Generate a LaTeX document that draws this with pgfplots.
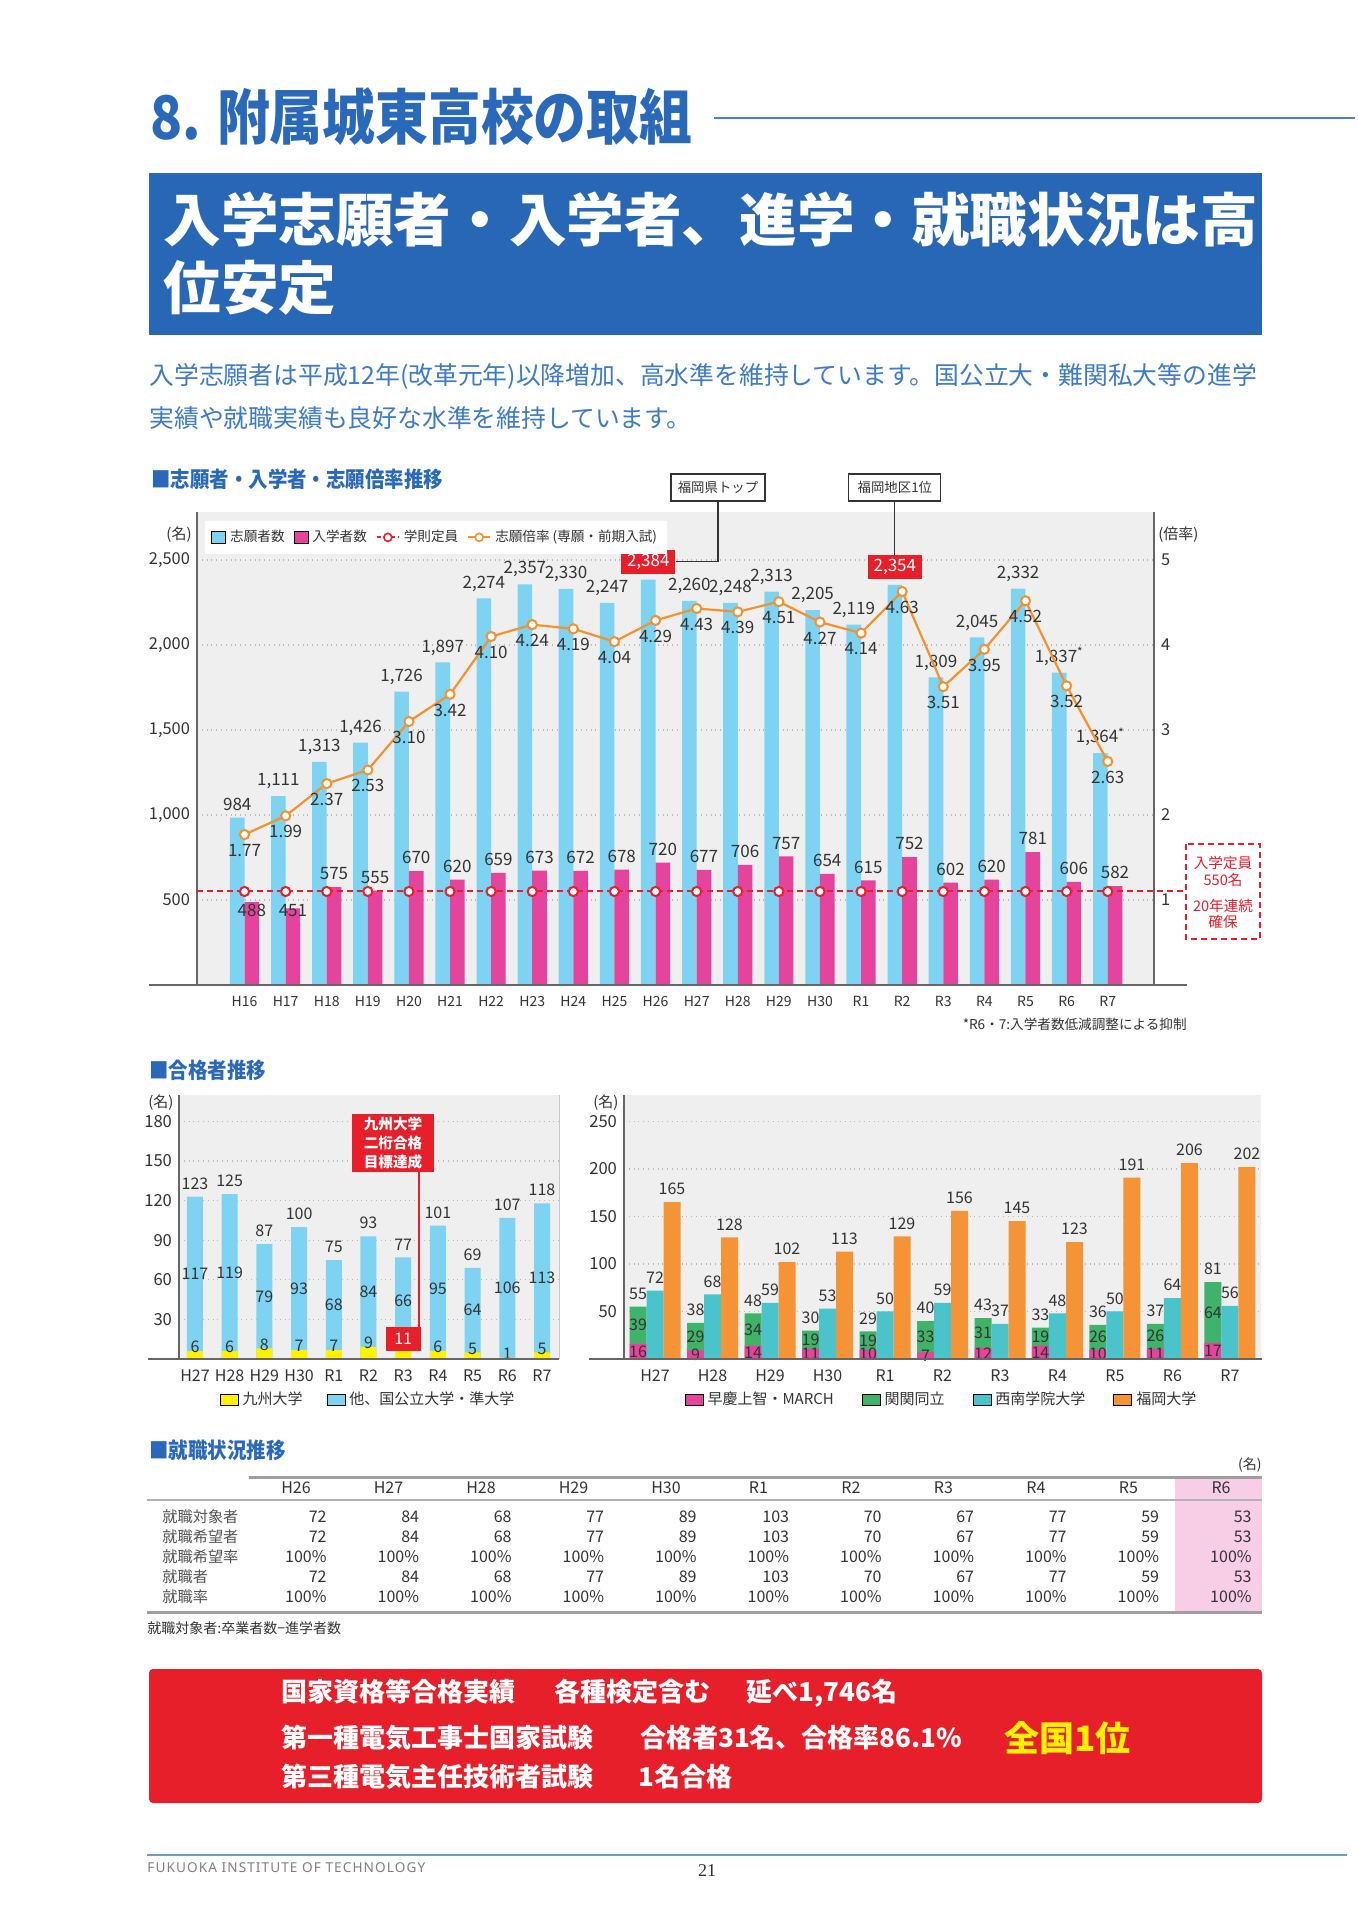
\documentclass[border=0pt]{standalone}
\usepackage{fontspec}
\usepackage{pgfplots}
\usepackage{pgfplotstable}
\pgfplotsset{compat=1.18}
\setmainfont{Noto Sans CJK JP}
\newfontfamily\titlefont[FakeStretch=0.88]{Noto Sans CJK JP}
\newfontfamily\headfont[FakeStretch=0.9]{Noto Sans CJK JP}
\newfontfamily\latinsans[LetterSpace=8]{Noto Sans}
\newfontfamily\serif{Liberation Serif}
\newcommand{\fs}[1]{\fontsize{#1}{#1}\selectfont}

\definecolor{txt}{HTML}{333333}
\definecolor{txtlight}{HTML}{555555}
\definecolor{axisgray}{HTML}{666666}
\definecolor{gridgray}{HTML}{BBBBBB}
\definecolor{bg}{HTML}{EFEFEF}
\definecolor{bluebar}{HTML}{7FD3F2}
\definecolor{magbar}{HTML}{E5449D}
\definecolor{orangeline}{HTML}{F39231}
\definecolor{redc}{HTML}{E71F2A}
\definecolor{yellowbar}{HTML}{FFF100}
\definecolor{greenbar}{HTML}{40B36B}
\definecolor{cyanbar}{HTML}{4BC3CB}
\definecolor{orangebar}{HTML}{F59437}
\definecolor{titleblue}{HTML}{2A69BA}
\definecolor{bannerblue}{HTML}{2767B6}
\definecolor{parablue}{HTML}{3D7BC9}
\definecolor{pinkcell}{HTML}{F8CDE6}
\definecolor{footblue}{HTML}{6E9AD4}

\pgfplotsset{
  sqA/.style={legend image code/.code={\fill[##1] (0pt,-3.2pt) rectangle (7pt,3.2pt);}},
  rectB/.style={legend image code/.code={\fill[##1] (0pt,-2.8pt) rectangle (9pt,2.8pt);}},
  lineleg/.style={legend image code/.code={\draw[mark repeat=2,mark phase=2,##1] plot coordinates {(0pt,0pt) (5.5pt,0pt) (11pt,0pt)};}},
}

% applicants, entrants, ratio and the fixed capacity, fiscal years H16 .. R7
\pgfplotstableread{
x app ent rat cap applab entlab
0 984 488 1.77 550 984 {}
1 1111 451 1.99 550 1,111 {}
2 1313 575 2.37 550 1,313 575
3 1426 555 2.53 550 1,426 555
4 1726 670 3.10 550 1,726 670
5 1897 620 3.42 550 1,897 620
6 2274 659 4.10 550 2,274 659
7 2357 673 4.24 550 2,357 673
8 2330 672 4.19 550 2,330 672
9 2247 678 4.04 550 2,247 678
10 2384 720 4.29 550 {} 720
11 2260 677 4.43 550 2,260 677
12 2248 706 4.39 550 2,248 706
13 2313 757 4.51 550 2,313 757
14 2205 654 4.27 550 2,205 654
15 2119 615 4.14 550 2,119 615
16 2354 752 4.63 550 {} 752
17 1809 602 3.51 550 1,809 602
18 2045 620 3.95 550 2,045 620
19 2332 781 4.52 550 2,332 781
20 1837 606 3.52 550 1,837\textsuperscript{*} 606
21 1364 582 2.63 550 1,364\textsuperscript{*} 582
}\tblA

% national / public universities, H27 .. R7
\pgfplotstableread{
x kyu oth kyulab
0 6 117 6
1 6 119 6
2 8 79 8
3 7 93 7
4 7 68 7
5 9 84 9
6 11 66 {}
7 6 95 6
8 5 64 5
9 1 106 1
10 5 113 5
}\tblB

% private universities, H27 .. R7
\pgfplotstableread{
x mar kan sei fuk
0 16 39 72 165
1 9 29 68 128
2 14 34 59 102
3 11 19 53 113
4 10 19 50 129
5 7 33 59 156
6 12 31 37 145
7 14 19 48 123
8 10 26 50 191
9 11 26 64 206
10 17 64 56 202
}\tblC

\begin{document}
\begin{tikzpicture}
\begin{scope}[x=0.5pt,y=-0.5pt]
\path[use as bounding box] (0,0) rectangle (1358,1920);
\fill[white] (0,0) rectangle (1358,1920);
% page header
\node[anchor=west, inner sep=0, text=titleblue, font=\titlefont\bfseries\fs{30}] at (150,117) {8. 附属城東高校の取組};
\draw[titleblue!85, line width=1pt] (714,118) -- (1355,118);
\fill[bannerblue] (149,173) rectangle (1262,335);
\node[anchor=west, inner sep=0, text=white, font=\bfseries\fs{28.8}] at (163,220) {入学志願者・入学者、進学・就職状況は高};
\node[anchor=west, inner sep=0, text=white, font=\bfseries\fs{28.8}] at (163,288) {位安定};
\node[anchor=west, inner sep=0, text=parablue, font=\fs{12.4}] at (149,376) {入学志願者は平成12年(改革元年)以降増加、高水準を維持しています。国公立大・難関私大等の進学};
\node[anchor=west, inner sep=0, text=parablue, font=\fs{12.4}] at (149,418) {実績や就職実績も良好な水準を維持しています。};
\node[anchor=west, inner sep=0, text=titleblue, font=\headfont\bfseries\fs{10.8}] at (151,479) {■志願者・入学者・志願倍率推移};
\end{scope}

% ---------- applicants / entrants ----------
\begin{axis}[
  at={(98.5pt,-492.5pt)}, anchor=south west,
  scale only axis, width=478.5pt, height=236.5pt,
  xmin=-1.156, xmax=22.127, ymin=0, ymax=2782,
  clip=false,
  axis background/.style={fill=bg},
  axis x line*=bottom, axis y line*=left,
  x axis line style={draw=none},
  y axis line style={draw=axisgray, line width=0.6pt},
  major tick length=0pt,
  xtick={0,...,21},
  xticklabels={H16,H17,H18,H19,H20,H21,H22,H23,H24,H25,H26,H27,H28,H29,H30,R1,R2,R3,R4,R5,R6,R7},
  ytick={500,1000,1500,2000,2500},
  yticklabels={500,{1,000},{1,500},{2,000},{2,500}},
  ymajorgrids,
  grid style={draw=gridgray, dotted, line width=0.6pt},
  tick label style={text=txt, font=\fs{8.2}},
  xticklabel style={font=\fs{7}, yshift=-2pt},
  legend columns=-1,
  legend cell align=left,
  legend style={at={(0.0084,0.9816)}, anchor=north west, draw=none, fill=white,
    inner xsep=3pt, inner ysep=2.5pt, font=\fs{6.8}, text=txt,
    /tikz/every even column/.append style={column sep=2.5pt}},
]
\addplot[ybar, bar width=7.3pt, bar shift=-3.65pt, fill=bluebar, draw=none, forget plot,
  nodes near coords, point meta=explicit symbolic,
  nodes near coords style={font=\fs{8.5}, text=txt, xshift=-3.65pt}]
  table[x=x, y=app, meta=applab]{\tblA};
\addplot[ybar, bar width=7.3pt, bar shift=3.65pt, fill=magbar, draw=none, forget plot,
  nodes near coords, point meta=explicit symbolic,
  nodes near coords style={font=\fs{8.5}, text=txt, xshift=3.65pt}]
  table[x=x, y=ent, meta=entlab]{\tblA};
\addplot[redc, line width=1pt, dash pattern=on 3pt off 2pt, forget plot]
  coordinates {(-1.156,550) (22.91,550)};
\addplot[only marks, mark=*, mark size=2.3pt, mark options={fill=white, draw=redc, line width=1pt}, forget plot]
  table[x=x, y=cap]{\tblA};
\node[font=\fs{8.5}, text=txt, inner sep=0, xshift=3.65pt] at (axis cs:0,440) {488};
\node[font=\fs{8.5}, text=txt, inner sep=0, xshift=3.65pt] at (axis cs:1,440) {451};
\node[fill=redc, text=white, inner sep=0pt, minimum width=27pt, minimum height=12pt,
  anchor=south, xshift=-3.65pt, yshift=2.7pt, font=\fs{8.5}] (lab2384) at (axis cs:10,2384) {2,384};
\node[fill=redc, text=white, inner sep=0pt, minimum width=27pt, minimum height=12pt,
  anchor=south, xshift=-3.65pt, yshift=2.5pt, font=\fs{8.5}] (lab2354) at (axis cs:16,2354) {2,354};
\addlegendimage{sqA, fill=bluebar}
\addlegendimage{sqA, fill=magbar}
\addlegendimage{lineleg, redc, line width=1pt, dash pattern=on 2pt off 1.5pt, mark=*, mark size=2pt,
  mark options={solid, fill=white, draw=redc, line width=0.8pt}}
\addlegendimage{lineleg, orangeline, line width=1pt, mark=*, mark size=2pt,
  mark options={fill=white, draw=orangeline, line width=0.8pt}}
\legend{志願者数, 入学者数, 学則定員, 志願倍率 (専願・前期入試)}
\end{axis}

% ratio on the right-hand scale
\begin{axis}[
  at={(98.5pt,-492.5pt)}, anchor=south west,
  scale only axis, width=478.5pt, height=236.5pt,
  xmin=-1.156, xmax=22.127, ymin=0, ymax=5.565,
  clip=false,
  axis x line=none, axis y line*=right,
  y axis line style={draw=axisgray, line width=0.6pt},
  major tick length=0pt,
  ytick={1,2,3,4,5}, yticklabels={1,2,3,4,5},
  tick label style={text=txt, font=\fs{8.2}},
]
\addplot[orangeline, line width=1.1pt, mark=*, mark size=2.3pt,
  mark options={fill=white, draw=orangeline, line width=1pt},
  nodes near coords, point meta=explicit symbolic,
  nodes near coords style={font=\fs{8.5}, text=txt, anchor=north, yshift=-1pt}]
  table[x=x, y=rat, meta=rat]{\tblA};
\end{axis}

% ---------- national / public universities ----------
\begin{axis}[
  at={(89.5pt,-679.5pt)}, anchor=south west,
  scale only axis, width=190pt, height=132pt,
  xmin=-0.46, xmax=10.49, ymin=0, ymax=200,
  clip=false,
  axis background/.style={fill=bg},
  axis x line*=bottom, axis y line*=left,
  x axis line style={draw=none},
  y axis line style={draw=axisgray, line width=0.6pt},
  major tick length=0pt,
  xtick={0,...,10},
  xticklabels={H27,H28,H29,H30,R1,R2,R3,R4,R5,R6,R7},
  ytick={30,60,90,120,150,180},
  yticklabels={30,60,90,120,150,180},
  ymajorgrids,
  grid style={draw=gridgray, dotted, line width=0.6pt},
  tick label style={text=txt, font=\fs{8.3}},
  xticklabel style={font=\fs{8}, yshift=-2pt},
  /pgf/number format/assume math mode=true,
  legend columns=-1,
  legend style={at={(0.5,-0.154)}, anchor=center, draw=none, fill=none, font=\fs{7.5}, text=txt,
    /tikz/every even column/.append style={column sep=10pt}},
]
\addplot[ybar, bar width=8pt, bar shift=0pt, fill=bluebar, draw=none, forget plot,
  nodes near coords, nodes near coords style={font=\fs{8}, text=txt}]
  table[x=x, y expr=\thisrow{kyu}+\thisrow{oth}]{\tblB};
\addplot[ybar, bar width=8pt, bar shift=0pt, fill=yellowbar, draw=none, forget plot]
  table[x=x, y=kyu]{\tblB};
\addplot[draw=none, mark=none, forget plot, nodes near coords, point meta=explicit,
  nodes near coords style={font=\fs{8}, text=txt, anchor=center}]
  table[x=x, y expr=\thisrow{kyu}+\thisrow{oth}/2, meta=oth]{\tblB};
\addplot[draw=none, mark=none, forget plot, nodes near coords, point meta=explicit symbolic,
  nodes near coords style={font=\fs{8}, text=txt, anchor=center, yshift=2pt}]
  table[x=x, y=kyu, meta=kyulab]{\tblB};
\node[fill=redc, text=white, inner sep=0pt, minimum width=17.5pt, minimum height=12pt, font=\fs{8}] (k11) at (axis cs:6,15) {11};
\addlegendimage{rectB, fill=yellowbar}
\addlegendimage{rectB, fill=bluebar}
\legend{九州大学, 他、国公立大学・準大学}
\end{axis}

% ---------- private universities ----------
\begin{axis}[
  at={(312pt,-679.5pt)}, anchor=south west,
  scale only axis, width=318.5pt, height=132pt,
  xmin=-0.54, xmax=10.54, ymin=0, ymax=277.8,
  clip=false,
  axis background/.style={fill=bg},
  axis x line*=bottom, axis y line*=left,
  x axis line style={draw=none},
  y axis line style={draw=axisgray, line width=0.6pt},
  major tick length=0pt,
  xtick={0,...,10},
  xticklabels={H27,H28,H29,H30,R1,R2,R3,R4,R5,R6,R7},
  ytick={50,100,150,200,250},
  yticklabels={50,100,150,200,250},
  ymajorgrids,
  grid style={draw=gridgray, dotted, line width=0.6pt},
  tick label style={text=txt, font=\fs{8.3}},
  xticklabel style={font=\fs{8}, yshift=-2pt},
  /pgf/number format/assume math mode=true,
  legend columns=-1,
  legend style={at={(0.5,-0.154)}, anchor=center, draw=none, fill=none, font=\fs{7.5}, text=txt,
    /tikz/every even column/.append style={column sep=12pt}},
]
\addplot[ybar, bar width=8.5pt, bar shift=-8.5pt, fill=greenbar, draw=none, forget plot,
  nodes near coords, nodes near coords style={font=\fs{8}, text=txt, xshift=-8.5pt}]
  table[x=x, y expr=\thisrow{mar}+\thisrow{kan}]{\tblC};
\addplot[ybar, bar width=8.5pt, bar shift=-8.5pt, fill=magbar, draw=none, forget plot]
  table[x=x, y=mar]{\tblC};
\addplot[ybar, bar width=8.5pt, bar shift=0pt, fill=cyanbar, draw=none, forget plot,
  nodes near coords, nodes near coords style={font=\fs{8}, text=txt}]
  table[x=x, y=sei]{\tblC};
\addplot[ybar, bar width=8.5pt, bar shift=8.5pt, fill=orangebar, draw=none, forget plot,
  nodes near coords, nodes near coords style={font=\fs{8}, text=txt, xshift=8.5pt}]
  table[x=x, y=fuk]{\tblC};
\addplot[draw=none, mark=none, forget plot, nodes near coords, point meta=explicit,
  nodes near coords style={font=\fs{8}, text=txt, anchor=center, xshift=-8.5pt}]
  table[x=x, y expr=\thisrow{mar}+\thisrow{kan}/2, meta=kan]{\tblC};
\addplot[draw=none, mark=none, forget plot, nodes near coords, point meta=explicit,
  nodes near coords style={font=\fs{8}, text=txt, anchor=center, xshift=-8.5pt}]
  table[x=x, y expr=\thisrow{mar}/2, meta=mar]{\tblC};
\addlegendimage{rectB, fill=magbar}
\addlegendimage{rectB, fill=greenbar}
\addlegendimage{rectB, fill=cyanbar}
\addlegendimage{rectB, fill=orangebar}
\legend{早慶上智・MARCH, 関関同立, 西南学院大学, 福岡大学}
\end{axis}

\begin{scope}[x=0.5pt,y=-0.5pt]
% annotations of the applicants chart
\node[anchor=east, inner sep=0, font=\fs{7.5}, text=txt] at (192,535) {(名)};
\node[anchor=west, inner sep=0, font=\fs{7.5}, text=txt] at (1158,535) {(倍率)};
\draw[txt, line width=0.6pt] (lab2384.east) -| (718,501);
\node[draw=txt, fill=white, line width=0.6pt, minimum width=47pt, minimum height=13.5pt, inner sep=0,
  font=\fs{6.7}, text=txt] at (718,487.5) {福岡県トップ};
\draw[txt, line width=0.6pt] (lab2354.north) -- (lab2354.north |- 0,501);
\node[draw=txt, fill=white, line width=0.6pt, minimum width=46pt, minimum height=13.5pt, inner sep=0,
  font=\fs{6.7}, text=txt] at (lab2354.north |- 0,487.5) {福岡地区1位};
\draw[redc, line width=1pt, dash pattern=on 3pt off 2pt] (1186,844) rectangle (1260,939);
\node[font=\fs{7.3}, text=redc, inner sep=0] at (1223,863) {入学定員};
\node[font=\fs{7.3}, text=redc, inner sep=0] at (1223,880) {550名};
\node[font=\fs{7.3}, text=redc, inner sep=0] at (1223,906) {20年連続};
\node[font=\fs{7.3}, text=redc, inner sep=0] at (1223,922) {確保};
\node[anchor=east, inner sep=0, font=\fs{6.8}, text=txt] at (1187,1024) {*R6・7:入学者数低減調整による抑制};
\draw[axisgray, line width=0.7pt] (149,985) -- (1187,985);

% annotations of the university charts
\node[anchor=west, inner sep=0, text=titleblue, font=\headfont\bfseries\fs{10.8}] at (149,1070) {■合格者推移};
\node[anchor=west, inner sep=0, font=\fs{7.5}, text=txt] at (148,1103) {(名)};
\node[anchor=west, inner sep=0, font=\fs{7.5}, text=txt] at (593,1103) {(名)};
\draw[gray!45, line width=0.5pt] (559,1095) -- (559,1359);
\draw[axisgray, line width=0.7pt] (148,1359) -- (559,1359);
\draw[axisgray, line width=0.7pt] (589,1359) -- (1262,1359);
\draw[redc, line width=0.8pt] (419,1172) -- (419,1327);
\node[fill=redc, text=white, font=\bfseries\fontsize{7.3}{9.4}\selectfont, align=center, inner sep=0,
  minimum width=41pt, minimum height=29pt] at (393,1143) {九州大学\\二桁合格\\目標達成};

% employment table
\node[anchor=west, inner sep=0, text=titleblue, font=\headfont\bfseries\fs{10.8}] at (149,1450) {■就職状況推移};
\node[anchor=east, inner sep=0, font=\fs{7}, text=txt] at (1262,1465) {(名)};
\fill[pinkcell] (1175,1477) rectangle (1262,1612);
\draw[gray!75, line width=1.5pt] (249,1477) -- (1262,1477);
\draw[gray!60, line width=0.8pt] (147,1500) -- (1262,1500);
\draw[gray!75, line width=1.5pt] (147,1612) -- (1262,1612);
\foreach \lab [count=\i from 0] in {H26,H27,H28,H29,H30,R1,R2,R3,R4,R5,R6}
  \node[inner sep=0, font=\fs{8}, text=txt] at (296+92.5*\i,1488) {\lab};
\foreach \lab [count=\j from 0] in {就職対象者,就職希望者,就職希望率,就職者,就職率}
  \node[anchor=west, inner sep=0, font=\fs{7.6}, text=txtlight] at (162,1517+20*\j) {\lab};
\foreach \v [count=\i from 0] in {72,84,68,77,89,103,70,67,77,59,53} {
  \node[anchor=east, inner sep=0, font=\fs{8}, text=txt] at (327+92.5*\i,1517) {\v};
  \node[anchor=east, inner sep=0, font=\fs{8}, text=txt] at (327+92.5*\i,1537) {\v};
  \node[anchor=east, inner sep=0, font=\fs{8}, text=txt] at (327+92.5*\i,1557) {100\%};
  \node[anchor=east, inner sep=0, font=\fs{8}, text=txt] at (327+92.5*\i,1577) {\v};
  \node[anchor=east, inner sep=0, font=\fs{8}, text=txt] at (327+92.5*\i,1597) {100\%};
}
\node[anchor=west, inner sep=0, font=\fs{7}, text=txt] at (147,1628) {就職対象者:卒業者数−進学者数};

% qualifications box
\fill[redc, rounded corners=2pt] (149,1669) rectangle (1262,1803);
\node[anchor=west, inner sep=0, text=white, font=\bfseries\fs{13}] at (281,1693)
  {国家資格等合格実績\hspace{1.5em}各種検定含む\hspace{1.4em}延べ1,746名};
\node[anchor=west, inner sep=0, text=white, font=\bfseries\fs{13}] at (281,1738)
  {第一種電気工事士国家試験\hspace{1.8em}合格者31名、合格率86.1\%};
\node[anchor=west, inner sep=0, text=yellowbar, font=\bfseries\fs{17.5}] at (1004,1738) {全国1位};
\node[anchor=west, inner sep=0, text=white, font=\bfseries\fs{13}] at (281,1777)
  {第三種電気主任技術者試験\hspace{1.75em}1名合格};

% footer
\draw[footblue, line width=1pt] (147,1855) -- (1347,1855);
\node[anchor=west, inner sep=0, text=gray, font=\latinsans\fs{6.8}] at (147,1868) {FUKUOKA INSTITUTE OF TECHNOLOGY};
\node[inner sep=0, text=txt, font=\serif\fs{9}] at (707,1871) {21};
\end{scope}
\end{tikzpicture}
\end{document}
